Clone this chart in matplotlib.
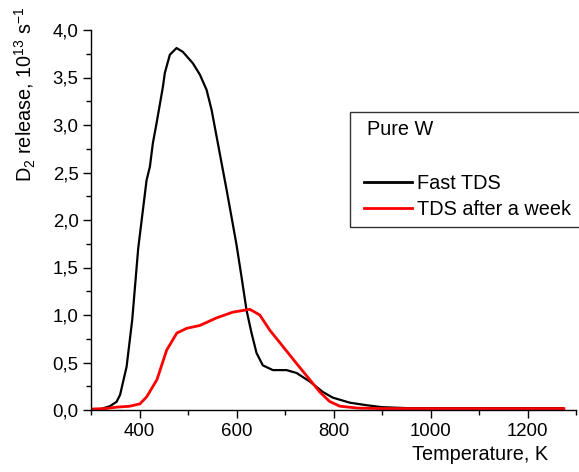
import matplotlib
matplotlib.use("Agg")
import matplotlib.pyplot as plt
from matplotlib.ticker import MultipleLocator, FuncFormatter
from matplotlib.patches import Rectangle

# ---- data ----
fast_T = [300, 320, 339, 352.8, 360, 373.4, 385, 397.3, 414.6, 421.4, 427.6, 435.2,
          448.2, 452.3, 462.6, 476.4, 489.4, 510, 524.5, 538.3, 548.6, 558.9, 569.2,
          579.5, 589.8, 600, 610.4, 620.7, 631, 641.3, 654.3, 675, 703, 723.7, 751,
          778, 798.6, 833.6, 868.6, 900, 950, 1000, 1100, 1200, 1272]
fast_D = [0.01, 0.01, 0.04, 0.087, 0.16, 0.456, 0.95, 1.70, 2.42, 2.56, 2.81, 3.02,
          3.40, 3.55, 3.74, 3.81, 3.77, 3.65, 3.53, 3.37, 3.16, 2.88, 2.60,
          2.32, 2.03, 1.74, 1.40, 1.05, 0.81, 0.60, 0.47, 0.42, 0.42, 0.39, 0.30,
          0.19, 0.13, 0.077, 0.05, 0.03, 0.02, 0.02, 0.02, 0.02, 0.02]

week_T = [304, 330, 353, 380, 401, 415, 436, 456, 477, 497.6, 524.5, 559, 592.5,
          627.5, 648, 668.7, 695.5, 723.7, 751, 771.6, 792, 813, 850, 900, 1000,
          1100, 1200, 1275]
week_D = [0.01, 0.015, 0.03, 0.04, 0.065, 0.14, 0.32, 0.63, 0.81, 0.86, 0.89, 0.97,
          1.03, 1.06, 1.00, 0.84, 0.67, 0.49, 0.32, 0.19, 0.09, 0.04, 0.02, 0.015,
          0.015, 0.015, 0.015, 0.015]

series_labels = ["Fast TDS", "TDS after a week"]
legend_title = "Pure W"
x_label = "Temperature, K"
y_label = "D$_2$ release, 10$^{13}$ s$^{-1}$"

# ---- style ----
plt.rcParams['font.family'] = ['Liberation Sans', 'DejaVu Sans']
plt.rcParams['mathtext.fontset'] = 'custom'
plt.rcParams['mathtext.rm'] = 'Liberation Sans'
plt.rcParams['mathtext.it'] = 'Liberation Sans:italic'
plt.rcParams['mathtext.bf'] = 'Liberation Sans:bold'

W, H = 579, 472
fig = plt.figure(figsize=(W / 100, H / 100), dpi=100)
ax = fig.add_axes([91 / W, (H - 410) / H, (576 - 91) / W, 380 / H])

l1, = ax.plot(fast_T, fast_D, color='black', lw=1.6, label=series_labels[0])
l2, = ax.plot(week_T, week_D, color='#ff0000', lw=2.0, label=series_labels[1])

ax.set_xlim(300, 1300)
ax.set_ylim(0, 4.0)
ax.xaxis.set_major_locator(MultipleLocator(200))
ax.xaxis.set_minor_locator(MultipleLocator(100))
ax.yaxis.set_major_locator(MultipleLocator(0.5))
ax.yaxis.set_minor_locator(MultipleLocator(0.25))
ax.xaxis.set_major_formatter(FuncFormatter(lambda v, p: "" if v < 350 or v > 1250 else f"{v:.0f}"))
ax.yaxis.set_major_formatter(FuncFormatter(lambda v, p: f"{v:.1f}".replace('.', ',')))

for s in ['top', 'right']:
    ax.spines[s].set_visible(False)
for s in ['left', 'bottom']:
    ax.spines[s].set_linewidth(1.0)

ax.tick_params(which='major', direction='out', length=6, width=1.0, labelsize=13.4, pad=3)
ax.tick_params(which='minor', direction='out', length=3.5, width=1.0)

fig.text(25 / W, 1 - 6 / H, y_label, rotation=90, ha='center', va='top', fontsize=14.3)
fig.text(548 / W, 1 - 455 / H, x_label, ha='right', va='center', fontsize=14.3)

# legend box
rect = Rectangle((350 / W, 1 - 227 / H), (600 - 350) / W, (227 - 112) / H,
                 transform=fig.transFigure, fill=False, edgecolor='#333333', lw=1.0,
                 clip_on=False)
fig.add_artist(rect)
fig.text(367 / W, 1 - 130 / H, legend_title, ha='left', va='center', fontsize=14.3)

leg = fig.legend(handles=[l1, l2], loc='upper left',
                 bbox_to_anchor=(364 / W, 1 - 174 / H), frameon=False,
                 fontsize=14.3, handlelength=2.4, handletextpad=0.25,
                 labelspacing=0.33, borderpad=0, borderaxespad=0)
for h in leg.legend_handles:
    h.set_linewidth(2.0)

fig.savefig("out.png", dpi=100)
